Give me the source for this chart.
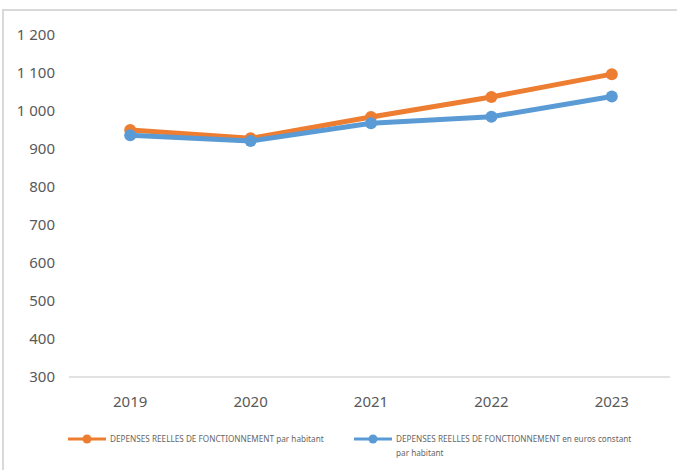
<!DOCTYPE html>
<html>
<head>
<meta charset="utf-8">
<script src="https://cdn.jsdelivr.net/npm/d3@7"></script>
<style>
  body { margin: 0; background: #fff; }
  svg { display: block; font-family: "Noto Sans", "Open Sans", sans-serif; }
  .tick-label { fill: #595959; font-size: 15px; }
  .legend-text { fill: #666; font-size: 8.2px; }
</style>
</head>
<body>
<div id="chart"></div>
<script>
const years = ["2019", "2020", "2021", "2022", "2023"];
const depensesParHabitant = [950, 928, 984, 1037, 1097];
const depensesEurosConstants = [936, 921, 968, 985, 1038];
const yTicks = [300, 400, 500, 600, 700, 800, 900, 1000, 1100, 1200];
const seriesNames = [
  "DEPENSES REELLES DE FONCTIONNEMENT par habitant",
  "DEPENSES REELLES DE FONCTIONNEMENT en euros constant par habitant",
];
const seriesColors = ["#ED7D31", "#5B9BD5"];

const width = 677;
const height = 470;
const margin = { top: 35, right: 5, bottom: 94, left: 70 };

const svg = d3
  .select("#chart")
  .append("svg")
  .attr("width", width)
  .attr("height", height);

// chart frame (only top and left visible in the picture)
svg.append("path")
  .attr("d", `M3,${height} V10 H${width}`)
  .attr("fill", "none")
  .attr("stroke", "#d9d9d9")
  .attr("stroke-width", 2);

const x = d3
  .scaleBand()
  .domain(years)
  .range([margin.left, width - margin.right]);

const y = d3
  .scaleLinear()
  .domain([300, 1200])
  .range([height - margin.bottom + 1, margin.top]);

const fr = d3.formatLocale({ decimal: ",", thousands: "\u00a0", grouping: [3], currency: ["", " €"] });
const fmt = fr.format(",d");

// y labels
svg.append("g")
  .selectAll("text")
  .data(yTicks)
  .join("text")
  .attr("class", "tick-label")
  .attr("x", 55)
  .attr("y", (d) => y(d))
  .attr("dy", "0.35em")
  .attr("text-anchor", "end")
  .text((d) => fmt(d));

// baseline
svg.append("line")
  .attr("x1", 69)
  .attr("x2", 670)
  .attr("y1", y(300))
  .attr("y2", y(300))
  .attr("stroke", "#d9d9d9")
  .attr("stroke-width", 1.5);

// x labels
svg.append("g")
  .selectAll("text")
  .data(years)
  .join("text")
  .attr("class", "tick-label")
  .attr("x", (d) => x(d) + x.bandwidth() / 2)
  .attr("y", 402)
  .attr("dy", "0.35em")
  .attr("text-anchor", "middle")
  .text((d) => d);

const series = [depensesParHabitant, depensesEurosConstants];
const line = d3
  .line()
  .x((d, i) => x(years[i]) + x.bandwidth() / 2)
  .y((d) => y(d));

series.forEach((values, s) => {
  const g = svg.append("g");
  g.append("path")
    .datum(values)
    .attr("d", line)
    .attr("fill", "none")
    .attr("stroke", seriesColors[s])
    .attr("stroke-width", 5)
    .attr("stroke-linejoin", "round");
  g.selectAll("circle")
    .data(values)
    .join("circle")
    .attr("cx", (d, i) => x(years[i]) + x.bandwidth() / 2)
    .attr("cy", (d) => y(d))
    .attr("r", 6)
    .attr("fill", seriesColors[s]);
});

// legend
const legendItems = [
  { x: 68, lines: [seriesNames[0]] },
  { x: 354, lines: ["DEPENSES REELLES DE FONCTIONNEMENT en euros constant", "par habitant"] },
];
legendItems.forEach((item, s) => {
  const g = svg.append("g").attr("transform", `translate(${item.x},439)`);
  g.append("line")
    .attr("x1", 0)
    .attr("x2", 38)
    .attr("stroke", seriesColors[s])
    .attr("stroke-width", 3);
  g.append("circle")
    .attr("cx", 19)
    .attr("r", 4.5)
    .attr("fill", seriesColors[s]);
  g.selectAll("text")
    .data(item.lines)
    .join("text")
    .attr("class", "legend-text")
    .attr("x", 42)
    .attr("y", (d, i) => i * 14)
    .attr("dy", "0.35em")
    .text((d) => d);
});
</script>
</body>
</html>
